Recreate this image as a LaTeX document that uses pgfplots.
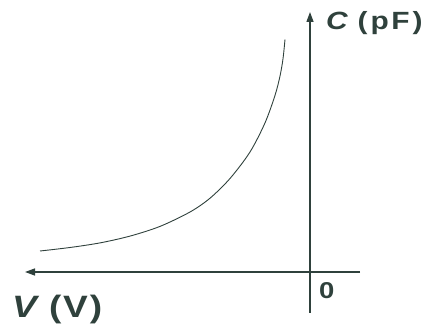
\documentclass[border=0pt]{standalone}
\usepackage{fontspec}
\setmainfont{Liberation Sans}
\usepackage{pgfplots}
\pgfplotsset{compat=1.18}
\usetikzlibrary{arrows.meta}
\definecolor{ink}{HTML}{2F413C}
\begin{document}
\begin{tikzpicture}
\begin{axis}[
  scale only axis, width=424bp, height=327bp,
  xmin=0, xmax=424, ymin=0, ymax=327,
  hide axis, clip=false,
]
\path (axis cs:0,0) rectangle (axis cs:424,327);
% C-V characteristic of the varactor (reverse bias to the left)
\addplot[ink, line width=0.9bp, smooth, tension=0.5, mark=none] coordinates {
  (40,76) (70,79.5) (100,84.1) (130,90.9) (160,100.6) (190,115)
  (210,128.8) (230,148.5) (250,175) (265,204.1) (275,231.6)
  (280,250.9) (283,268.2) (285,287.5)};
% V axis
\addplot[ink, line width=1.3bp, mark=none, -{Triangle[length=10bp,width=7bp]}]
  coordinates {(360,55) (25,55)};
% C axis
\addplot[ink, line width=1.3bp, mark=none, -{Triangle[length=10bp,width=7bp]}]
  coordinates {(310,14) (310,315)};
\node[ink, anchor=base west, inner sep=0pt] at (axis cs:326,297)
  {\scalebox{1.2}[1]{\fontsize{25}{28}\selectfont\bfseries\textit{C}\hspace{8bp}(\hspace{2.5bp}p\hspace{2bp}F\hspace{2.5bp})}};
\node[ink, anchor=base west, inner sep=0pt] at (axis cs:12,10)
  {\scalebox{1.2}[1]{\fontsize{31}{34}\selectfont\bfseries\textit{V}\hspace{8bp}(\hspace{1.5bp}V\hspace{1.5bp})}};
\node[ink, anchor=base west, inner sep=0pt] at (axis cs:319,29)
  {\scalebox{1.2}[1]{\fontsize{23}{26}\selectfont\bfseries 0}};
\end{axis}
\end{tikzpicture}
\end{document}
